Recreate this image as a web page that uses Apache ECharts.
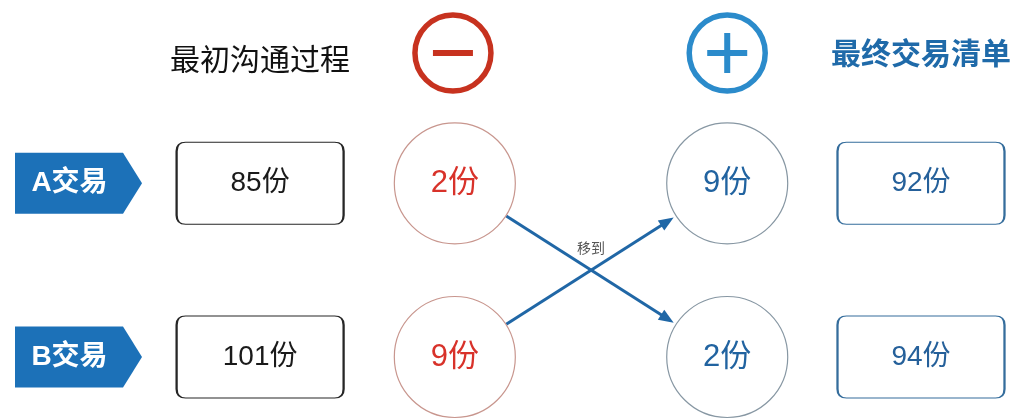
<!DOCTYPE html>
<html>
<head>
<meta charset="utf-8">
<script src="https://cdn.jsdelivr.net/npm/echarts@6/dist/echarts.min.js"></script>
<style>html,body{margin:0;padding:0;background:#fff}#c{width:1015px;height:419px}</style>
</head>
<body>
<div id="c"></div>
<script>
// ---- data ----
const headers = ['最初沟通过程', '最终交易清单'];
const trades = ['A交易', 'B交易'];
const initialShares = [85, 101];
const movedOut = [2, 9];
const movedIn = [9, 2];
const finalShares = [92, 94];
const unit = '份';
const moveLabel = '移到';
// transfers: [from trade index, to trade index]
const transfers = [[0, 1], [1, 0]];

// ---- layout (slots on hidden value axes) ----
const COL = { tag: 0, initial: 1.94, minus: 4.02, plus: 6.93, final: 9 };
const ROW = [0, 3, 7]; // header, A, B
const CIRCLE = 121;
const FONT = '"Liberation Sans", "Noto Sans CJK SC", sans-serif';
const CJK = '"Noto Sans CJK SC", sans-serif';

function roundRectPath(w, h, r) {
  return 'path://M' + r + ',0H' + (w - r) + 'Q' + w + ',0 ' + w + ',' + r +
    'V' + (h - r) + 'Q' + w + ',' + h + ' ' + (w - r) + ',' + h +
    'H' + r + 'Q0,' + h + ' 0,' + (h - r) + 'V' + r + 'Q0,0 ' + r + ',0Z';
}
const BOX = roundRectPath(167, 82, 9);

function textLabel(extra) {
  return Object.assign({ show: true, position: 'inside', formatter: p => p.data.text }, extra);
}
function style(extra) { return Object.assign({ opacity: 1 }, extra); }

const series = [];

// header texts
series.push({
  type: 'scatter', clip: false, silent: true, animation: false,
  symbol: 'rect', symbolSize: [10, 10],
  itemStyle: style({ color: 'rgba(0,0,0,0)' }),
  data: [
    { value: [COL.initial, ROW[0]], text: headers[0],
      label: textLabel({ fontFamily: CJK, fontSize: 30, fontWeight: 'normal', color: '#111', offset: [0, 6] }) },
    { value: [COL.final, ROW[0]], text: headers[1],
      label: textLabel({ fontFamily: CJK, fontSize: 30, fontWeight: 'bold', color: '#1f6aa9' }) }
  ]
});

// header icons (minus / plus rings)
series.push({
  type: 'scatter', clip: false, silent: true, animation: false, z: 3,
  symbol: 'circle', symbolSize: 76,
  data: [
    { value: [COL.minus - 0.02, ROW[0]], itemStyle: style({ color: '#fff', borderColor: '#c7321f', borderWidth: 5.5 }) },
    { value: [COL.plus, ROW[0]], itemStyle: style({ color: '#fff', borderColor: '#2b8bcb', borderWidth: 5.5 }) }
  ]
});
series.push({
  type: 'scatter', clip: false, silent: true, animation: false, z: 4,
  data: [
    { value: [COL.minus - 0.02, ROW[0]], symbol: 'rect', symbolSize: [40, 6], itemStyle: style({ color: '#c7321f' }) },
    { value: [COL.plus, ROW[0]], symbol: 'path://M17,0H23V17H40V23H23V40H17V23H0V17H17Z', symbolSize: [40, 40], itemStyle: style({ color: '#2b8bcb' }) }
  ]
});

// trade tags
series.push({
  type: 'scatter', clip: false, silent: true, animation: false,
  symbol: 'path://M0,0L108,0L127,30.5L108,61L0,61Z', symbolSize: [127, 61],
  itemStyle: style({ color: '#1c71b8' }),
  label: textLabel({ fontFamily: FONT, fontSize: 28, fontWeight: 'bold', color: '#fff', offset: [-9, 0] }),
  data: trades.map((t, i) => ({ value: [COL.tag, ROW[i + 1]], text: t }))
});

// initial boxes
series.push({
  type: 'scatter', clip: false, silent: true, animation: false,
  symbol: BOX, symbolSize: [167, 82],
  itemStyle: style({ color: '#fff', borderColor: '#262626', borderWidth: 1.6 }),
  label: textLabel({ fontFamily: FONT, fontSize: 28, color: '#1a1a1a' }),
  data: initialShares.map((v, i) => ({ value: [COL.initial, ROW[i + 1]], text: v + unit }))
});

// moved out (red circles)
series.push({
  type: 'scatter', clip: false, silent: true, animation: false, z: 3,
  symbol: 'circle', symbolSize: CIRCLE,
  itemStyle: style({ color: '#fff', borderColor: '#c8968e', borderWidth: 1.2 }),
  label: textLabel({ fontFamily: FONT, fontSize: 31, color: '#d8322a' }),
  data: movedOut.map((v, i) => ({ value: [COL.minus, ROW[i + 1]], text: v + unit }))
});

// moved in (blue circles)
series.push({
  type: 'scatter', clip: false, silent: true, animation: false, z: 3,
  symbol: 'circle', symbolSize: CIRCLE,
  itemStyle: style({ color: '#fff', borderColor: '#8797a3', borderWidth: 1.2 }),
  label: textLabel({ fontFamily: FONT, fontSize: 31, color: '#2163a0' }),
  data: movedIn.map((v, i) => ({ value: [COL.plus, ROW[i + 1]], text: v + unit }))
});

// final boxes
series.push({
  type: 'scatter', clip: false, silent: true, animation: false,
  symbol: BOX, symbolSize: [167, 82],
  itemStyle: style({ color: '#fff', borderColor: '#356d9c', borderWidth: 1.6 }),
  label: textLabel({ fontFamily: FONT, fontSize: 28, color: '#25609a' }),
  data: finalShares.map((v, i) => ({ value: [COL.final, ROW[i + 1]], text: v + unit }))
});

// transfer arrows
series.push({
  type: 'custom', clip: false, silent: true, animation: false, z: 2,
  coordinateSystem: 'cartesian2d',
  encode: { x: 0, y: 1 },
  data: transfers,
  renderItem: function (params, api) {
    const from = api.value(0), to = api.value(1);
    const p1 = api.coord([COL.minus, ROW[from + 1]]);
    const p2 = api.coord([COL.plus, ROW[to + 1]]);
    const dx = p2[0] - p1[0], dy = p2[1] - p1[1];
    const len = Math.sqrt(dx * dx + dy * dy);
    const ux = dx / len, uy = dy / len;
    const r1 = CIRCLE / 2 + 0.5, r2 = CIRCLE / 2 + 3;
    const s = [p1[0] + ux * r1, p1[1] + uy * r1];
    const e = [p2[0] - ux * r2, p2[1] - uy * r2];
    const hl = 15, hw = 6;
    const b = [e[0] - ux * hl, e[1] - uy * hl];
    const nx = -uy, ny = ux;
    const color = '#2067a6';
    const children = [
      { type: 'line', shape: { x1: s[0], y1: s[1], x2: b[0] + ux * 2, y2: b[1] + uy * 2 },
        style: { stroke: color, lineWidth: 3 } },
      { type: 'polygon', shape: { points: [e, [b[0] + nx * hw, b[1] + ny * hw], [b[0] - nx * hw, b[1] - ny * hw]] },
        style: { fill: color } }
    ];
    if (params.dataIndex === 0) {
      children.push({
        type: 'text',
        style: { x: (p1[0] + p2[0]) / 2, y: (p1[1] + p2[1]) / 2 - 22, text: moveLabel,
          fill: '#555', font: '14px ' + CJK, align: 'center', verticalAlign: 'middle' }
      });
    }
    return { type: 'group', children: children };
  }
});

const chart = echarts.init(document.getElementById('c'), null, { renderer: 'canvas' });
chart.setOption({
  backgroundColor: '#fff',
  animation: false,
  grid: { left: 31.7, right: 47.2, top: 9.6, bottom: 18.6 },
  xAxis: { type: 'value', min: -0.5, max: 9.5, show: false },
  yAxis: { type: 'value', min: -1, max: 8, inverse: true, show: false },
  series: series
});
</script>
</body>
</html>
